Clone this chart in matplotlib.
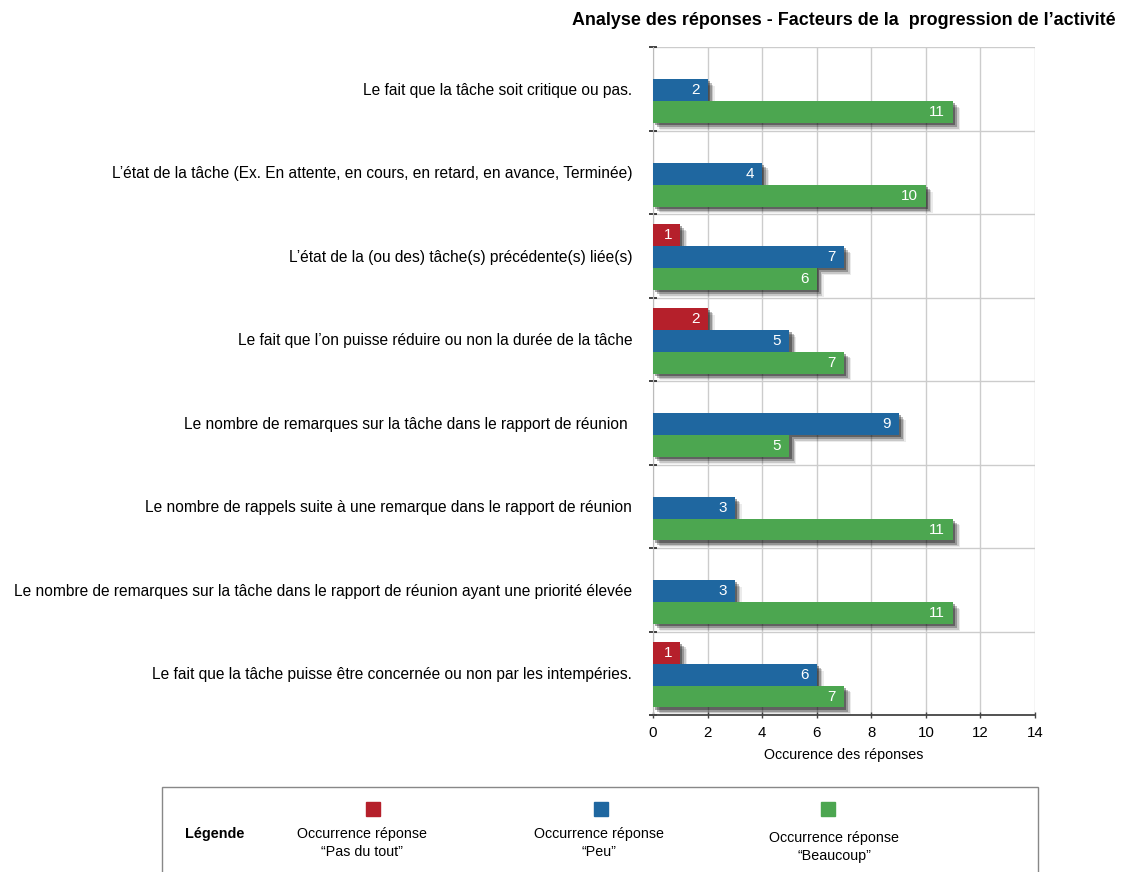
import numpy as np
import matplotlib
matplotlib.use("Agg")
import matplotlib.pyplot as plt
import matplotlib.patheffects as pe
from matplotlib.patches import Rectangle

plt.rcParams['font.family'] = ['Liberation Sans', 'DejaVu Sans']

categories = [
    "Le fait que la tâche soit critique ou pas.",
    "L’état de la tâche (Ex. En attente, en cours, en retard, en avance, Terminée)",
    "L’état de la (ou des) tâche(s) précédente(s) liée(s)",
    "Le fait que l’on puisse réduire ou non la durée de la tâche",
    "Le nombre de remarques sur la tâche dans le rapport de réunion ",
    "Le nombre de rappels suite à une remarque dans le rapport de réunion",
    "Le nombre de remarques sur la tâche dans le rapport de réunion ayant une priorité élevée",
    "Le fait que la tâche puisse être concernée ou non par les intempéries.",
]
pas_du_tout = [0, 0, 1, 2, 0, 0, 0, 1]
peu = [2, 4, 7, 5, 9, 3, 3, 6]
beaucoup = [11, 10, 6, 7, 5, 11, 11, 7]

series = [pas_du_tout, peu, beaucoup]
colors = ["#B5202B", "#1F67A0", "#4CA650"]
legend_labels = ["Occurrence réponse\n“Pas du tout”",
                 "Occurrence réponse\n“Peu”",
                 "Occurrence réponse\n“Beaucoup”"]

fig = plt.figure(figsize=(11.21, 8.72), dpi=100)
ax = fig.add_axes([0.5825, 0.18, 0.3408, 0.766])

n = len(categories)
centers = np.arange(n)  # 0 at top after inverting
bar_h = 0.263
offsets = [-bar_h + 0.015, 0.015, bar_h + 0.015]

shadow = [pe.SimplePatchShadow(offset=(5, -5), shadow_rgbFace='k', alpha=0.08),
          pe.SimplePatchShadow(offset=(4, -4), shadow_rgbFace='k', alpha=0.15),
          pe.SimplePatchShadow(offset=(3, -3), shadow_rgbFace='k', alpha=0.25),
          pe.SimplePatchShadow(offset=(1.5, -1.5), shadow_rgbFace='k', alpha=0.35),
          pe.Normal()]

for vals, off, col in zip(series, offsets, colors):
    for i, v in enumerate(vals):
        if v == 0:
            continue
        b = ax.barh(centers[i] + off, v, height=bar_h, color=col, zorder=3)
        b[0].set_path_effects(shadow)
        ax.text(v - 0.3, centers[i] + off, str(v), color="white",
                ha="right", va="center", fontsize=11, zorder=4)

ax.set_xlim(0, 14)
ax.set_ylim(n - 0.5, -0.5)
ax.set_xticks(range(0, 15, 2))
ax.set_yticks(centers)
ax.set_yticklabels(categories, fontsize=11.2)
ax.set_yticks(np.arange(n + 1) - 0.5, minor=True)
ax.tick_params(axis='y', which='major', length=0, pad=15)
ax.tick_params(axis='y', which='minor', length=6, width=1.2, direction='inout',
               color='#222222')
ax.tick_params(axis='x', labelsize=10.8, length=4, width=1, direction='inout',
               color='#444444', pad=6)

ax.grid(axis='x', color='#cccccc', lw=1, zorder=0)
ax.grid(axis='y', which='minor', color='#cccccc', lw=1, zorder=0)
for s in ['top', 'right']:
    ax.spines[s].set_visible(False)
ax.spines['left'].set_color('#bbbbbb')
ax.spines['bottom'].set_color('#444444')
ax.spines['bottom'].set_linewidth(1.3)
ax.set_xlabel("Occurence des réponses", fontsize=10.3, labelpad=6)

fig.text(0.9955, 0.976, "Analyse des réponses - Facteurs de la  progression de l’activité",
         ha='right', va='center', fontsize=12.9, fontweight='bold')

# legend box
fig.add_artist(Rectangle((0.1445, -0.02), 0.7815, 0.1175, transform=fig.transFigure,
                         fill=False, edgecolor='#888888', lw=1))
fig.text(0.165, 0.0435, "Légende", ha='left', va='center', fontsize=10.4, fontweight='bold')
sq_x = [373, 601, 828]
txt_x = [362, 599, 834]
txt_y = [843, 843, 847]
for sx, tx, ty, col, lab in zip(sq_x, txt_x, txt_y, colors, legend_labels):
    fig.add_artist(Rectangle(((sx - 7) / 1121, 1 - 816 / 872), 14 / 1121, 14 / 872,
                             transform=fig.transFigure, color=col))
    fig.text(tx / 1121, 1 - ty / 872, lab, ha='center', va='center',
             fontsize=10.3, linespacing=1.3)

fig.savefig("out.png", dpi=100)
